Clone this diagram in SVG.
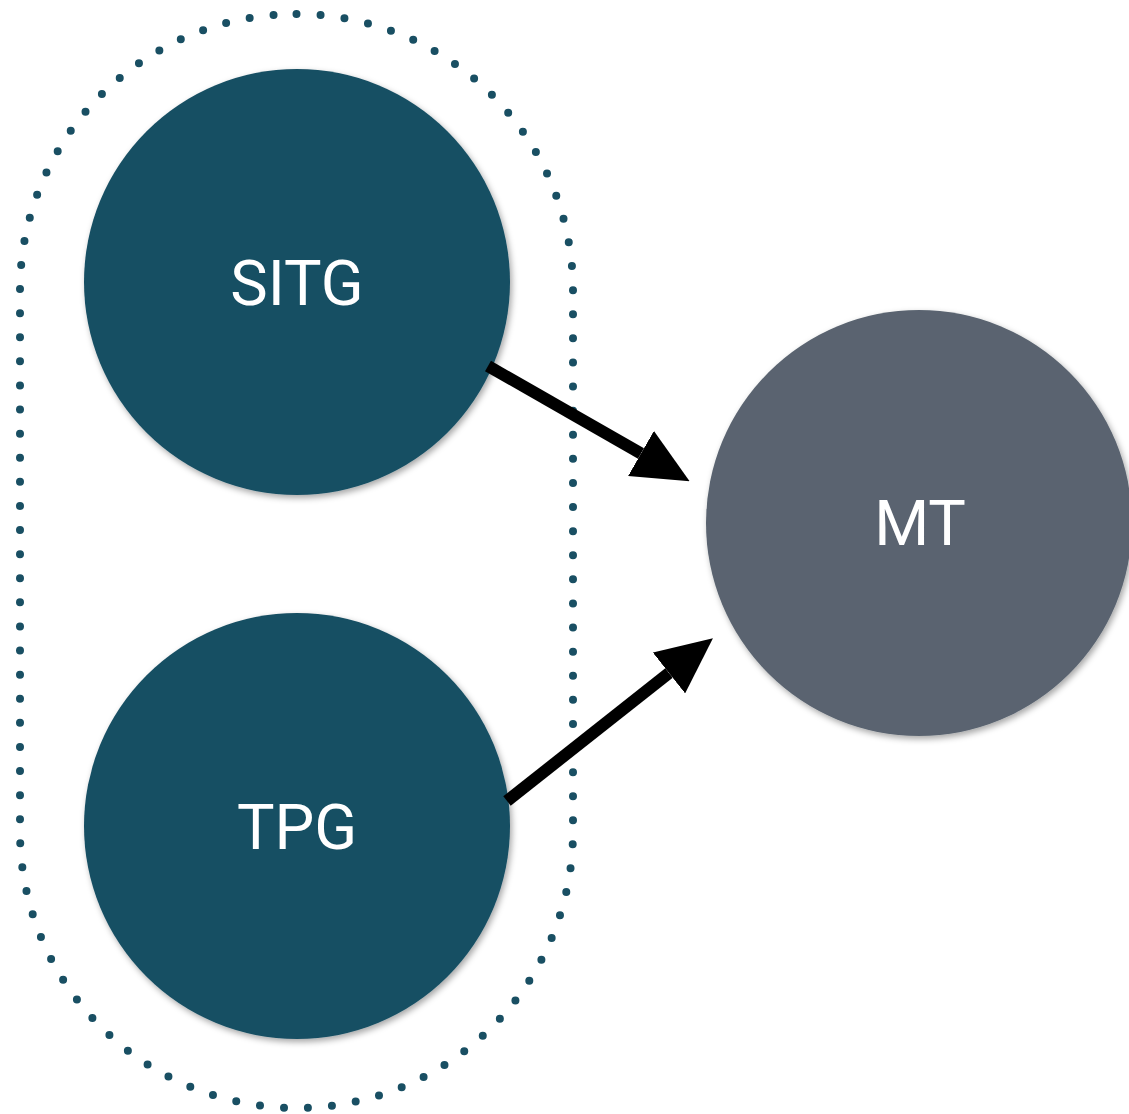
<svg xmlns="http://www.w3.org/2000/svg" width="1129" height="1114" viewBox="0 0 1129 1114">
<style>
.group-boundary{fill:none;stroke:#194f63;stroke-width:8;stroke-linecap:round;stroke-dasharray:0 24.1}
.node-main{fill:#194f63}
.node-target{fill:#5a6470}
.label{font-family:Roboto,"Liberation Sans",sans-serif;font-size:63px;fill:#ffffff;text-anchor:middle}
.edge{stroke:#000;stroke-width:12;fill:none}
</style>
<defs>
<filter id="shadow" x="-10%" y="-10%" width="125%" height="125%">
<feDropShadow dx="2" dy="3" stdDeviation="3" flood-color="#000" flood-opacity="0.35"/>
</filter>
<marker id="arrow" viewBox="0 0 56 52" refX="0" refY="26" markerWidth="56" markerHeight="52" markerUnits="userSpaceOnUse" orient="auto">
<path d="M0,0 L56,26 L0,52 Z" fill="#000"/>
</marker>
</defs>
<rect id="group" class="group-boundary" x="20" y="14" width="553" height="1094" rx="276.5" ry="276.5"/>
<g id="node-SITG">
<circle class="node-main" cx="297" cy="282" r="213" filter="url(#shadow)"/>
<text class="label" x="297" y="305">SITG</text>
</g>
<g id="node-TPG">
<circle class="node-main" cx="297" cy="826" r="213" filter="url(#shadow)"/>
<text class="label" x="297" y="849">TPG</text>
</g>
<g id="node-MT">
<circle class="node-target" cx="919" cy="523" r="213" filter="url(#shadow)"/>
<text class="label" x="920" y="545">MT</text>
</g>
<g id="connectors">
<line class="edge" x1="488" y1="366" x2="641" y2="453.5" marker-end="url(#arrow)"/>
<line class="edge" x1="507" y1="801" x2="669" y2="673" marker-end="url(#arrow)"/>
</g>
</svg>
